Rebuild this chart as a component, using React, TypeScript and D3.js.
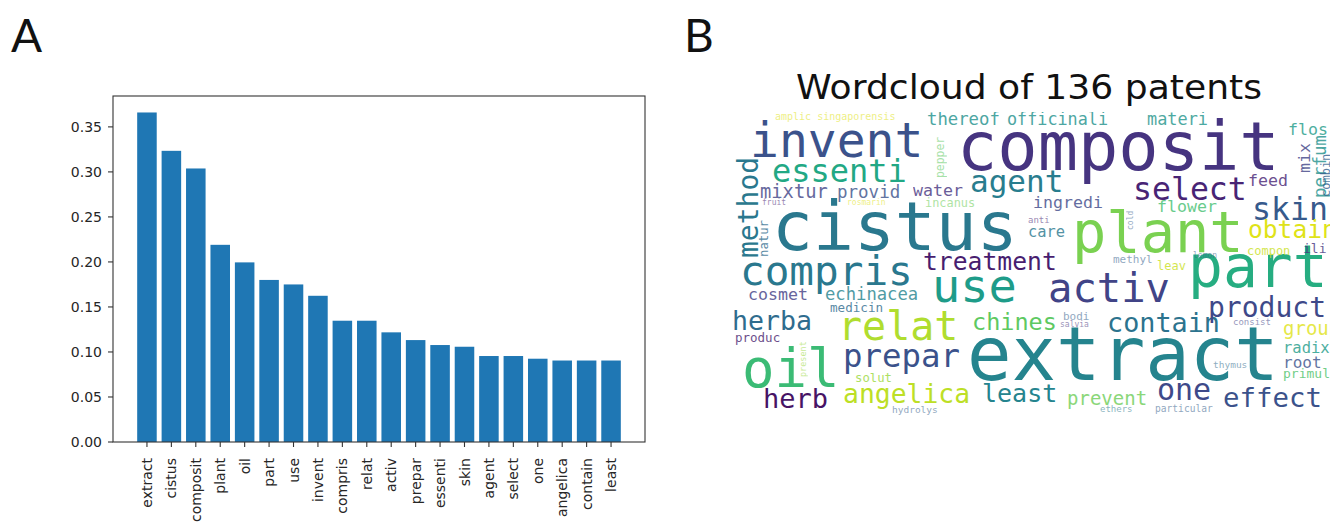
import React from "react";
import * as d3 from "d3";

// ---------- Panel A data ----------
const terms = ["extract","cistus","composit","plant","oil","part","use","invent","compris","relat","activ","prepar","essenti","skin","agent","select","one","angelica","contain","least"];
const scores = [0.366,0.3234,0.3038,0.219,0.1995,0.180,0.175,0.1624,0.1347,0.1347,0.1218,0.1132,0.1077,0.1058,0.0955,0.0955,0.0925,0.0905,0.0905,0.0905];
const yTicks = [0,0.05,0.10,0.15,0.20,0.25,0.30,0.35];

// ---------- Panel B data (word cloud layout, in cloud-canvas units) ----------
const cloudTitle = "Wordcloud of 136 patents";
type W = [string, number, number, number, number, number]; // text, x, y, size, tone, rot
const cloudWords: W[] = [
  ["composit",227,58,67,0.15,0],
  ["extract",237,268,74,0.45,0],
  ["cistus",42,138,68,0.40,0],
  ["plant",342,140,57,0.80,0],
  ["part",458,175,58,0.62,0],
  ["invent",20,45,48,0.25,0],
  ["use",202,190,47,0.55,0],
  ["oil",12,275,54,0.68,0],
  ["compris",10,173,41,0.40,0],
  ["relat",108,228,40,0.88,0],
  ["activ",318,190,40.5,0.20,0],
  ["prepar",113,255,32.4,0.25,0],
  ["essenti",42,70,32,0.60,0],
  ["agent",240,80,31,0.42,0],
  ["select",403,88,31.5,0.10,0],
  ["skin",522,108,31.5,0.28,0],
  ["treatment",193,158,24.7,0.08,0],
  ["herba",2,218,26.6,0.35,0],
  ["chines",242,218,23.5,0.75,0],
  ["contain",377,220,26.8,0.38,0],
  ["angelica",113,291,26.4,0.90,0],
  ["herb",33,296,27,0.05,0],
  ["least",252,290,25,0.45,0],
  ["one",427,288,30,0.22,0],
  ["effect",493,295,27.4,0.25,0],
  ["product",478,205,28,0.22,0],
  ["obtain",518,126,24.6,0.95,0],
  ["prevent",337,293,19,0.78,0],
  ["group",553,223,19,0.95,0],
  ["mixtur",30,86,18.8,0.20,0],
  ["provid",107,86,17.5,0.25,0],
  ["water",183,84,16.6,0.15,0],
  ["thereof",197,13,17.3,0.50,0],
  ["officinali",277,13,16.8,0.50,0],
  ["materi",417,13,16.9,0.52,0],
  ["flos",558,23,16.6,0.55,0],
  ["feed",518,74,16.6,0.10,0],
  ["ingredi",303,96,16.6,0.22,0],
  ["flower",427,100,16.6,0.70,0],
  ["echinacea",95,188,17.2,0.45,0],
  ["cosmet",18,188,16.6,0.18,0],
  ["care",298,125,15.4,0.40,0],
  ["radix",553,241,15.5,0.55,0],
  ["root",553,256,16,0.25,0],
  ["primula",553,266,13,0.72,0],
  ["medicin",100,200,12.6,0.35,0],
  ["produc",5,230,12.5,0.08,0],
  ["solut",125,270,12.3,0.85,0],
  ["incanus",195,95,11.9,0.78,0],
  ["methyl",383,151,11,0.30,0],
  ["leav",427,158,12,0.92,0],
  ["bodi",333,208,11,0.30,0],
  ["compon",517,143,12,0.92,0],
  ["ili",573,141,13,0.15,0],
  ["anti",298,111,9,0.10,0],
  ["hydrolys",162,301,9.5,0.30,0],
  ["particular",425,300,9.6,0.30,0],
  ["thymus",483,256,9.5,0.35,0],
  ["consist",503,213,9,0.20,0],
  ["salvia",330,215,8,0.15,0],
  ["amplic singaporensis",45,8,10,0.95,0],
  ["ethers",370,300,9,0.40,0],
  ["lemon",463,146,8,0.30,0],
  ["fruit",32,93,8,0.10,0],
  ["rosmarin",117,93,8,0.95,0],
  ["method",28,146,28,0.40,1],
  ["natur",38,145,12.3,0.35,1],
  ["pepper",214,66,11.4,0.75,1],
  ["present",76,265,8.5,0.85,1],
  ["mix",580,61,16.6,0.20,1],
  ["perfum",596,86,17.4,0.50,1],
  ["combin",600,85,12,0.30,1],
  ["cold",403,118,8,0.30,1],
];

export default function App() {
  // Panel A scales
  const left = 113, right = 645, top = 96, bottom = 442;
  const n = terms.length;
  const x = d3.scaleLinear().domain([-0.4 - 0.05 * (n - 0.2), n - 1 + 0.4 + 0.05 * (n - 0.2)]).range([left, right]);
  const y = d3.scaleLinear().domain([0, (d3.max(scores) as number) * 1.05]).range([bottom, top]);
  const fmt = d3.format(".2f");

  // Panel B scales
  const cx = d3.scaleLinear().domain([0, 600]).range([730, 1330]);
  const cy = d3.scaleLinear().domain([0, 308]).range([112, 420]);
  const tone = (t: number) => d3.interpolateViridis(t);

  const tickFont = { fontFamily: "DejaVu Sans", fontSize: 14, fill: "#262626" } as const;

  return (
    <svg width={1330} height={524} style={{ position: "absolute", left: 0, top: 0, background: "#fff" }}>
      <rect x={0} y={0} width={1330} height={524} fill="#fff" />
      {/* panel letters */}
      <text x={11} y={52} fontFamily="Lato" fontSize={46} fill="#111">A</text>
      <text x={684} y={52} fontFamily="Lato" fontSize={46} fill="#111">B</text>

      {/* Panel A bars */}
      {scores.map((v, i) => (
        <rect key={terms[i]} x={x(i - 0.4)} y={y(v)} width={x(i + 0.4) - x(i - 0.4)} height={y(0) - y(v)} fill="#1f77b4" />
      ))}
      {/* frame */}
      <rect x={left} y={top} width={right - left} height={bottom - top} fill="none" stroke="#333" strokeWidth={1.1} />
      {/* y ticks */}
      {yTicks.map((t) => (
        <g key={t}>
          <line x1={left - 5} x2={left} y1={y(t)} y2={y(t)} stroke="#333" strokeWidth={1.1} />
          <text x={left - 11} y={y(t)} dy="0.36em" textAnchor="end" {...tickFont}>{fmt(t)}</text>
        </g>
      ))}
      {/* x ticks */}
      {terms.map((t, i) => (
        <g key={t}>
          <line x1={x(i)} x2={x(i)} y1={bottom} y2={bottom + 5} stroke="#333" strokeWidth={1.1} />
          <text transform={`translate(${x(i)},${bottom + 16}) rotate(-90)`} dy="0.36em" textAnchor="end" {...tickFont}>{t}</text>
        </g>
      ))}

      {/* Panel B */}
      <text x={1029} y={99} textAnchor="middle" fontFamily="DejaVu Sans" fontSize={34} textLength={466} lengthAdjust="spacingAndGlyphs" fill="#111">{cloudTitle}</text>
      <defs>
        <clipPath id="cloudClip">
          <rect x={cx(0)} y={cy(0)} width={cx(600) - cx(0)} height={cy(308) - cy(0)} />
        </clipPath>
      </defs>
      <g clipPath="url(#cloudClip)" fontFamily="DejaVu Sans Mono">
        {cloudWords.map(([w, wx, wy, s, t, r], i) => (
          <text
            key={i}
            transform={r ? `translate(${cx(wx)},${cy(wy)}) rotate(-90)` : `translate(${cx(wx)},${cy(wy)})`}
            fontSize={s}
            fill={tone(t)}
            opacity={s < 12 ? 0.55 : s < 20 ? 0.8 : 1}
          >{w}</text>
        ))}
      </g>
    </svg>
  );
}
